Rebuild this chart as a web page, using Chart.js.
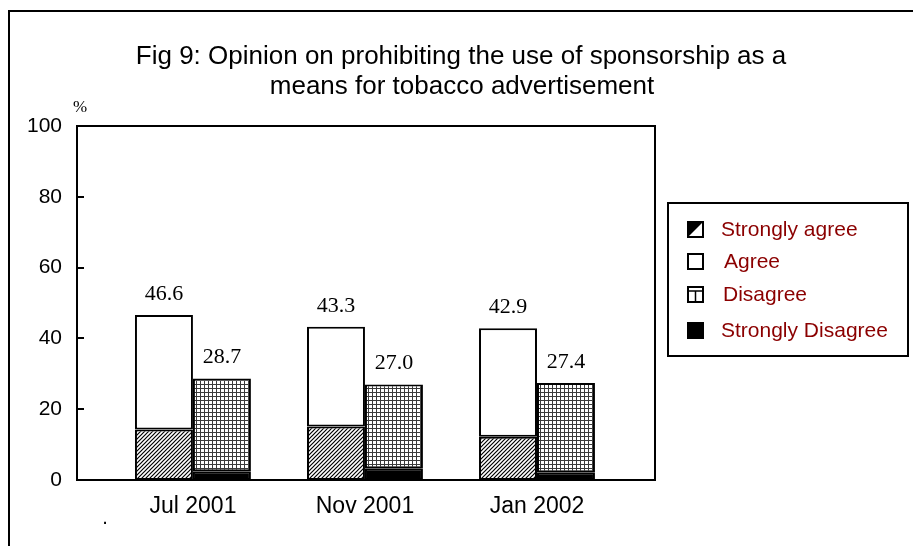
<!DOCTYPE html>
<html>
<head>
<meta charset="utf-8">
<script src="https://cdn.jsdelivr.net/npm/chart.js@4/dist/chart.umd.min.js"></script>
<style>
  html, body { margin: 0; padding: 0; background: #fff; }
  #wrap { width: 913px; height: 546px; position: relative; }
</style>
</head>
<body>
<div id="wrap"><canvas id="c" width="913" height="546"></canvas></div>
<script>
// Survey rounds and opinion shares (%)
const surveyRounds = ['Jul 2001', 'Nov 2001', 'Jan 2002'];
const stronglyAgree = [14.3, 15.1, 12.2];
const agree = [32.3, 28.2, 30.7];
const stronglyDisagree = [2.5, 3.3, 2.2];
const disagree = [26.2, 23.7, 25.2];
const yTicks = [0, 20, 40, 60, 80, 100];
const titleLines = [
  'Fig 9: Opinion on prohibiting the use of sponsorship as a',
  'means for tobacco advertisement'
];
const legendLabels = ['Strongly agree', 'Agree', 'Disagree', 'Strongly Disagree'];

const SANS = "'Liberation Sans', Arial, sans-serif";
const SERIF = "'Liberation Serif', 'Times New Roman', serif";

// Fill patterns
function hatchPattern() {
  const n = 4;
  const t = document.createElement('canvas');
  t.width = n; t.height = n;
  const g = t.getContext('2d');
  g.fillStyle = '#fff'; g.fillRect(0, 0, n, n);
  g.strokeStyle = '#000'; g.lineWidth = 1.2;
  g.beginPath();
  g.moveTo(-1, n + 1); g.lineTo(n + 1, -1);
  g.moveTo(-1, 1); g.lineTo(1, -1);
  g.moveTo(n - 1, n + 1); g.lineTo(n + 1, n - 1);
  g.stroke();
  return g.createPattern(t, 'repeat');
}
function gridPattern() {
  const t = document.createElement('canvas');
  t.width = 4; t.height = 4;
  const g = t.getContext('2d');
  g.fillStyle = '#fff'; g.fillRect(0, 0, 4, 4);
  g.fillStyle = '#3a3a3a';
  g.fillRect(0, 0, 4, 1);
  g.fillRect(0, 0, 1, 4);
  return g.createPattern(t, 'repeat');
}

const ctx0 = document.getElementById('c').getContext('2d');
const hatch = hatchPattern();
const grid = gridPattern();

const toPoints = arr => arr.map((v, i) => ({ x: i, y: v }));

// Outer page frame, plot frame, inward y ticks, title, stray dot
const decorPlugin = {
  id: 'decor',
  beforeDraw(chart) {
    const c = chart.ctx;
    c.save();
    c.fillStyle = '#fff';
    c.fillRect(0, 0, chart.width, chart.height);
    c.strokeStyle = '#000';
    c.lineWidth = 2;
    c.beginPath();
    c.moveTo(9, 546); c.lineTo(9, 11); c.lineTo(913, 11);
    c.stroke();
    // title
    c.fillStyle = '#000';
    c.font = '26px ' + SANS;
    c.textAlign = 'center';
    c.textBaseline = 'alphabetic';
    c.fillText(titleLines[0], 461, 64);
    c.fillText(titleLines[1], 462, 94);
    // unit
    c.textBaseline = 'middle';
    c.font = '17px ' + SERIF;
    c.fillText('%', 80, 108);
    c.font = '20px ' + SANS;
    c.fillText('.', 105, 518);
    c.restore();
  },
  afterDraw(chart) {
    const c = chart.ctx;
    const a = chart.chartArea;
    const ys = chart.scales.y;
    c.save();
    c.strokeStyle = '#000';
    c.lineWidth = 2;
    c.strokeRect(a.left, a.top, a.right - a.left, a.bottom - a.top);
    c.beginPath();
    yTicks.forEach(v => {
      const y = Math.round(ys.getPixelForValue(v));
      c.moveTo(a.left, y); c.lineTo(a.left + 7, y);
    });
    c.stroke();
    c.restore();
  }
};

// Stack totals above each group of bars
const totalsPlugin = {
  id: 'totals',
  afterDatasetsDraw(chart) {
    const c = chart.ctx;
    c.save();
    c.fillStyle = '#000';
    c.font = '22px ' + SERIF;
    c.textAlign = 'center';
    c.textBaseline = 'alphabetic';
    const groups = [[0, 1], [2, 3]];
    groups.forEach(([lo, hi]) => {
      const topMeta = chart.getDatasetMeta(hi);
      topMeta.data.forEach((el, i) => {
        const total = chart.data.datasets[lo].data[i].y + chart.data.datasets[hi].data[i].y;
        c.fillText(total.toFixed(1), el.x, el.y - 15);
      });
    });
    c.restore();
  }
};

// Boxed legend on the right
const legendPlugin = {
  id: 'boxLegend',
  afterDraw(chart) {
    const c = chart.ctx;
    c.save();
    c.strokeStyle = '#000';
    c.lineWidth = 2;
    c.strokeRect(668, 203, 240, 153);
    const rows = [230, 262, 295, 331];
    const textX = [721, 724, 723, 721];
    c.font = '21px ' + SANS;
    c.textBaseline = 'middle';
    c.textAlign = 'left';
    rows.forEach((y, k) => {
      const x0 = 688, s = 15, y0 = y - 8;
      c.lineWidth = 2;
      c.strokeStyle = '#000';
      c.fillStyle = '#fff';
      c.fillRect(x0, y0, s, s);
      c.fillStyle = '#000';
      if (k === 0) {
        c.beginPath();
        c.moveTo(x0, y0); c.lineTo(x0 + s, y0); c.lineTo(x0, y0 + s); c.closePath();
        c.fill();
      } else if (k === 2) {
        c.beginPath();
        c.moveTo(x0, y0 + 4); c.lineTo(x0 + s, y0 + 4);
        c.moveTo(x0 + s / 2, y0 + 4); c.lineTo(x0 + s / 2, y0 + s);
        c.lineWidth = 1.5;
        c.stroke();
        c.lineWidth = 2;
      } else if (k === 3) {
        c.fillRect(x0, y0, s, s);
      }
      c.strokeRect(x0, y0, s, s);
      c.fillStyle = '#8b0000';
      c.fillText(legendLabels[k], textX[k], y);
    });
    c.restore();
  }
};

const barStyle = { borderColor: '#000', borderWidth: 2, borderSkipped: false };

new Chart(ctx0, {
  type: 'bar',
  data: {
    datasets: [
      { label: legendLabels[0], data: toPoints(stronglyAgree), stack: 'agree', backgroundColor: hatch, ...barStyle },
      { label: legendLabels[1], data: toPoints(agree), stack: 'agree', backgroundColor: '#fff', ...barStyle },
      { label: legendLabels[3], data: toPoints(stronglyDisagree), stack: 'disagree', backgroundColor: '#000', ...barStyle },
      { label: legendLabels[2], data: toPoints(disagree), stack: 'disagree', backgroundColor: grid, ...barStyle }
    ]
  },
  options: {
    responsive: false,
    animation: false,
    events: [],
    layout: { padding: { left: 0, top: 126, right: 258, bottom: 0 } },
    datasets: { bar: { categoryPercentage: 0.674, barPercentage: 1 } },
    plugins: { legend: { display: false }, title: { display: false }, tooltip: { enabled: false } },
    scales: {
      x: {
        type: 'linear',
        min: -0.674,
        max: 2.686,
        offset: false,
        grid: { display: false },
        border: { display: false },
        afterBuildTicks: s => { s.ticks = surveyRounds.map((_, i) => ({ value: i })); },
        afterFit: s => { s.height = 66; },
        ticks: {
          autoSkip: false,
          maxRotation: 0,
          padding: 5,
          color: '#000',
          font: { family: SANS, size: 23 },
          callback: v => surveyRounds[v] ?? ''
        }
      },
      y: {
        stacked: true,
        min: 0,
        max: 100,
        grid: { display: false },
        border: { display: false },
        afterBuildTicks: s => { s.ticks = yTicks.map(v => ({ value: v })); },
        afterFit: s => { s.width = 77; },
        ticks: {
          padding: 7,
          color: '#000',
          font: { family: SANS, size: 21 }
        }
      }
    }
  },
  plugins: [decorPlugin, totalsPlugin, legendPlugin]
});
</script>
</body>
</html>
